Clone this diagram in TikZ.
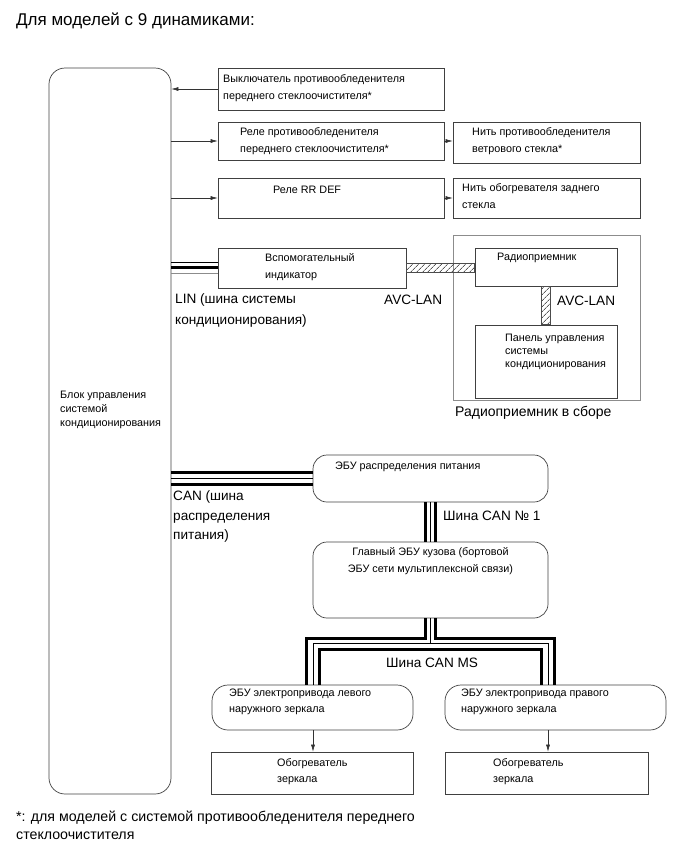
\documentclass[tikz,border=0pt]{standalone}
\usepackage{fontspec}
\setmainfont{Liberation Sans}
\usetikzlibrary{arrows.meta,patterns.meta,calc}
\begin{document}
\begin{tikzpicture}[x=1pt,y=-1pt,
  box/.style={draw=black!75, line width=0.7pt, inner sep=0pt},
  ebox/.style={box, rounded corners=16pt},
  txt/.style={inner sep=0pt, anchor=west, align=left},
  fs/.style={font=\fontsize{10.8}{17}\selectfont},
  fl/.style={font=\fontsize{13.6}{20}\selectfont},
  arr/.style={draw=black!80, line width=0.6pt, -{Latex[length=7pt,width=4pt]}},
  tk/.style={draw=black, line width=3pt, line cap=butt, line join=miter},
  tn/.style={draw=black, line width=0.9pt, line join=miter},
  gr/.style={draw=black!45, line width=1.8pt},
  avc/.style={draw=black!70, line width=0.6pt, pattern={Lines[angle=45,distance=4pt,line width=0.5pt]}}
]
\useasboundingbox (0,0) rectangle (690,855);

% title
\node[txt, font=\fontsize{17}{19}\selectfont] (title) at (16,21) {Для моделей с 9 динамиками:};

% main control block
\node[box, rounded corners=16pt, minimum width=122pt, minimum height=726pt] (ctrl) at (110,431) {};
\node[txt, font=\fontsize{10.8}{14}\selectfont] (ctrlt) at (60,410) {Блок управления\\системой\\кондиционирования};

% row 1
\node[box, minimum width=226pt, minimum height=42pt] (sw) at (331,89) {};
\node[txt, fs] (swt) at (223,88.5) {Выключатель противообледенителя\\переднего стеклоочистителя*};
% row 2
\node[box, minimum width=226pt, minimum height=38pt] (relay) at (331,141) {};
\node[txt, fs] (relayt) at (240,141) {Реле противообледенителя\\переднего стеклоочистителя*};
\node[box, minimum width=187pt, minimum height=41pt] (wsfil) at (546.5,142.5) {};
\node[txt, fs] (wsfilt) at (472,141) {Нить противообледенителя\\ветрового стекла*};
% row 3
\node[box, minimum width=226pt, minimum height=40pt] (rrdef) at (331,198) {};
\node[txt, fs] (rrdeft) at (273,190) {Реле RR DEF};
\node[box, minimum width=187pt, minimum height=40pt] (rwfil) at (546.5,198) {};
\node[txt, fs] (rwfilt) at (462,196) {Нить обогревателя заднего\\стекла};

% row 4
\node[box, minimum width=188pt, minimum height=40pt] (aux) at (312,268) {};
\node[txt, fs] (auxt) at (265,267) {Вспомогательный\\индикатор};

% radio assembly
\node[draw=black!45, line width=0.8pt, inner sep=0pt, minimum width=187pt, minimum height=165pt] (asm) at (546.5,317.5) {};
\node[txt, font=\fontsize{14}{16}\selectfont] (asmt) at (455,413) {Радиоприемник в сборе};
\node[box, minimum width=142pt, minimum height=38pt] (radio) at (546,267) {};
\node[txt, fs] (radiot) at (497,258) {Радиоприемник};
\node[box, minimum width=142pt, minimum height=73pt] (panel) at (546,361.5) {};
\node[txt, font=\fontsize{10.8}{13}\selectfont] (panelt) at (505,352) {Панель управления\\системы\\кондиционирования};

% AVC-LAN bands
\draw[avc] ($(aux.east)+(0,-5)$) rectangle ($(radio.west)+(0,5)$);
\draw[avc] ($(radio.south)+(-4.5,0)$) rectangle ($(panel.north)+(4.5,0)$);
\node[txt, fl] (avc1) at (384,300) {AVC-LAN};
\node[txt, fl] (avc2) at (557,301) {AVC-LAN};

% LIN bus
\draw[tn] ($(ctrl.east |- aux.west)+(0,-5.5)$) -- ($(aux.west)+(0,-5.5)$);
\draw[tk] ($(ctrl.east |- aux.west)+(0,-0.5)$) -- ($(aux.west)+(0,-0.5)$);
\draw[gr] ($(ctrl.east |- aux.west)+(0,5.5)$) -- ($(aux.west)+(0,5.5)$);
\node[txt, font=\fontsize{13.6}{20.5}\selectfont] (lint) at (175,310.5) {LIN (шина системы\\кондиционирования)};

% arrows rows 1-3
\draw[arr] (sw.west) -- (ctrl.east |- sw.west);
\draw[arr] (ctrl.east |- relay.west) -- (relay.west);
\draw[arr] (relay.east) -- (relay.east -| wsfil.west);
\draw[arr] (ctrl.east |- rrdef.west) -- (rrdef.west);
\draw[arr] (rrdef.east) -- (rwfil.west);

% power distribution ECU
\node[box, rounded corners=14pt, minimum width=235pt, minimum height=47pt] (pdu) at (430.5,478.5) {};
\node[txt, fs] (pdut) at (335,467) {ЭБУ распределения питания};
% CAN bus
\draw[tk] ($(ctrl.east |- pdu.west)+(0,-6)$) -- ($(pdu.west)+(0,-6)$);
\draw[tn] ($(ctrl.east |- pdu.west)+(0,0)$) -- ($(pdu.west)+(0,0)$);
\draw[tk] ($(ctrl.east |- pdu.west)+(0,5.5)$) -- ($(pdu.west)+(0,5.5)$);
\node[txt, font=\fontsize{13.6}{19.5}\selectfont] (cant) at (173,516.5) {CAN (шина\\распределения\\питания)};

% body ECU
\node[box, rounded corners=14pt, minimum width=235pt, minimum height=76pt] (bcm) at (430.5,580) {};
\node[inner sep=0pt, align=center, fs, anchor=center] (bcmt) at (430.5,561.5) {Главный ЭБУ кузова (бортовой\\ЭБУ сети мультиплексной связи)};
% CAN No1
\draw[tk] ($(pdu.south)+(-5.5,0)$) -- ($(bcm.north)+(-5.5,0)$);
\draw[tn] ($(pdu.south)+(-0.5,0)$) -- ($(bcm.north)+(-0.5,0)$);
\draw[tk] ($(pdu.south)+(4.5,0)$) -- ($(bcm.north)+(4.5,0)$);
\node[txt, fl] (can1t) at (443,516) {Шина CAN № 1};

% mirror ECUs
\node[ebox, minimum width=201pt, minimum height=45pt] (lecu) at (312.5,707.5) {};
\node[txt, font=\fontsize{10.8}{16}\selectfont] (lecut) at (229,702) {ЭБУ электропривода левого\\наружного зеркала};
\node[ebox, minimum width=221pt, minimum height=45pt] (recu) at (555.5,707.5) {};
\node[txt, font=\fontsize{10.8}{16}\selectfont] (recut) at (461,702) {ЭБУ электропривода правого\\наружного зеркала};
\coordinate (lb) at (313,685);
\coordinate (rb) at (548,685);

% CAN MS bus
\draw[tk] ($(bcm.south)+(-5.5,0)$) -- (425,638) -- (306.5,638) -- (306.5,685);
\draw[tk] ($(bcm.south)+(4.5,0)$) -- (435,638) -- (554.5,638) -- (554.5,685);
\draw[tn] ($(bcm.south)+(-0.5,0)$) -- (430,643.5);
\draw[tn] (lb) -- (313,643.5) -- (548,643.5) -- (rb);
\draw[tk] (319.5,685) -- (319.5,649.5) -- (541.5,649.5) -- (541.5,685);
\node[txt, fl] (canmst) at (386,663) {Шина CAN MS};

% heaters
\node[box, minimum width=202pt, minimum height=42pt] (lheat) at (312,773) {};
\node[txt, font=\fontsize{10.8}{16}\selectfont] (lheatt) at (277,772) {Обогреватель\\зеркала};
\node[box, minimum width=203pt, minimum height=42pt] (rheat) at (546.5,773) {};
\node[txt, font=\fontsize{10.8}{16}\selectfont] (rheatt) at (493,772) {Обогреватель\\зеркала};
\draw[arr] (313,730) -- (lb |- lheat.north);
\draw[arr] (548,730) -- (rb |- rheat.north);

% footnote
\node[txt, font=\fontsize{14.2}{18}\selectfont] (foot) at (16,825) {*: для моделей с системой противообледенителя переднего\\стеклоочистителя};
\end{tikzpicture}
\end{document}
